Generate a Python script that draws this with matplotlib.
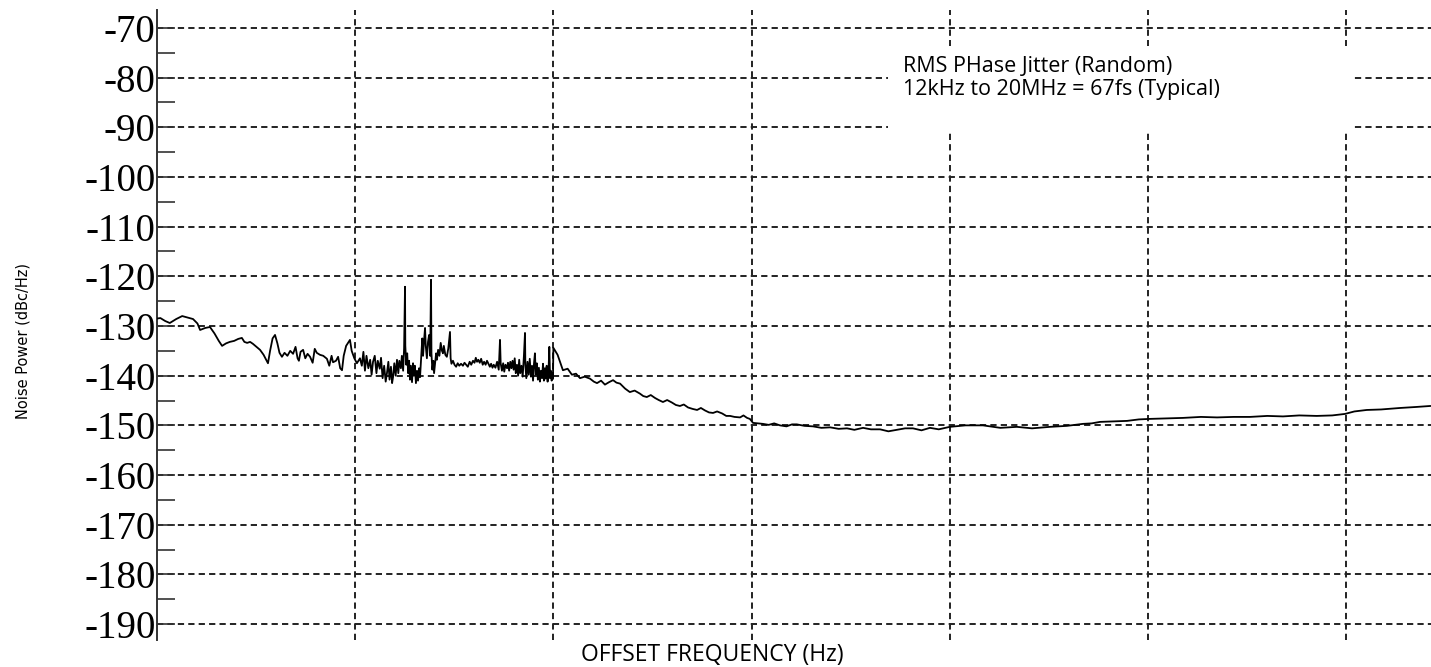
import numpy as np
import matplotlib
matplotlib.use("Agg")
import matplotlib.pyplot as plt
from matplotlib.patches import Rectangle

# phase noise readings, Hz / dBc/Hz
lowFreq = [100, 104, 110, 116, 125, 134, 143, 152, 160, 165, 175, 185, 195, 205, 213, 223, 233, 245,
           257, 268, 276, 285, 295, 305, 318, 331, 345, 363, 372, 383, 394, 405, 415, 427, 440, 455,
           470, 486, 500, 512, 520, 530, 546, 560, 575, 592, 610, 625, 640, 664, 690, 720, 740, 760,
           773, 800, 820, 840, 858, 875, 900, 941, 960, 990, 1020, 1057]
lowNoise = [-128.5, -128.4, -129.0, -129.4, -128.6, -128.0, -128.3, -128.6, -129.5, -130.8, -130.4,
            -130.2, -131.5, -133.0, -134.0, -133.5, -133.2, -133.0, -132.6, -132.4, -133.2, -133.4,
            -133.2, -133.6, -134.2, -134.8, -135.8, -137.5, -135.0, -132.5, -131.8, -133.5, -135.4,
            -136.2, -135.4, -136.0, -135.0, -135.6, -134.2, -136.5, -137.0, -135.2, -134.8, -136.5,
            -135.6, -136.2, -137.4, -134.6, -135.4, -135.8, -136.0, -136.6, -138.0, -136.0, -137.3,
            -137.0, -136.2, -138.5, -138.9, -136.0, -134.0, -132.8, -135.0, -136.5, -137.5, -136.5]

spurFreq = [1080, 1100, 1120, 1140, 1165, 1190, 1210, 1230, 1255, 1280, 1300, 1330, 1350, 1375, 1400,
            1425, 1446, 1470, 1490, 1515, 1535, 1552, 1575, 1600, 1625, 1650, 1670, 1700, 1720, 1745,
            1765, 1784, 1790, 1810, 1830, 1850, 1870, 1890, 1910, 1935, 1958, 1980, 2000, 2025, 2050,
            2075, 2100, 2124, 2150, 2180, 2200, 2225, 2251, 2270, 2300, 2330, 2360, 2390, 2413, 2425,
            2450, 2480, 2500, 2530, 2560, 2585, 2620, 2660, 2700, 2740, 2773, 2800, 2850, 2900, 2950,
            3008, 3030, 3060, 3114, 3170, 3230, 3290, 3350, 3420, 3496, 3560, 3630, 3700, 3780, 3850,
            3930, 4000, 4060, 4118, 4180, 4250, 4320, 4400, 4470, 4550, 4624, 4700, 4780, 4850, 4930,
            5000, 5100, 5200, 5300, 5378, 5420, 5500, 5580, 5650, 5730, 5834, 5900, 5980, 6060, 6140,
            6220, 6300, 6380, 6460, 6550, 6640, 6720, 6800, 6900, 7000, 7100, 7190, 7220, 7300, 7400,
            7500, 7600, 7700, 7800, 7893, 7980, 8070, 8150, 8250, 8350, 8450, 8550, 8650, 8764, 8864,
            8960, 9060, 9150, 9250, 9350, 9450, 9540, 9618, 9700, 9800, 9900, 9950]
spurNoise = [-138.0, -135.2, -139.0, -136.0, -138.5, -136.8, -139.8, -137.2, -136.0, -139.5, -137.0,
             -138.6, -136.4, -140.5, -138.0, -141.2, -139.5, -137.2, -140.8, -138.2, -141.5, -140.3,
             -137.5, -140.0, -136.8, -139.5, -137.0, -138.5, -136.0, -139.0, -134.5, -122.1, -134.0,
             -137.8, -135.5, -139.5, -137.0, -140.8, -138.0, -141.3, -137.5, -140.0, -138.0, -141.5,
             -139.0, -141.0, -138.5, -140.3, -136.5, -132.5, -136.0, -133.0, -130.4, -134.0, -136.5,
             -133.2, -131.8, -136.0, -120.7, -135.5, -138.8, -137.0, -139.5, -137.5, -135.5, -136.8,
             -134.8, -136.0, -133.4, -135.0, -135.5, -134.0, -135.8, -136.2, -134.5, -131.2, -136.5,
             -137.6, -137.0, -137.8, -138.2, -137.5, -138.0, -137.6, -138.0, -137.4, -137.8, -138.2,
             -137.2, -137.8, -137.0, -137.4, -136.4, -137.2, -136.8, -137.4, -136.6, -137.8, -137.2,
             -137.8, -137.0, -137.6, -138.2, -137.6, -138.4, -137.8, -138.4, -137.2, -138.8, -132.8,
             -137.5, -139.0, -137.5, -139.2, -137.8, -138.5, -137.4, -139.0, -137.2, -138.5, -137.0,
             -138.8, -136.5, -139.5, -137.8, -140.0, -136.8, -139.5, -138.0, -140.2, -136.0, -131.4,
             -137.8, -140.5, -137.2, -139.8, -136.6, -140.2, -138.0, -141.0, -137.6, -135.5, -139.8,
             -137.5, -140.8, -138.4, -141.2, -139.0, -140.5, -137.6, -141.0, -138.5, -140.6, -138.0,
             -141.2, -139.0, -134.2, -140.5, -139.0, -141.0, -139.5, -140.5]

highFreq = [10000, 10500, 11170, 11800, 12400, 13000, 13620, 14400, 15300, 16000, 16600, 17400, 18200,
            19100, 20000, 20800, 21700, 23000, 24300, 25700, 27300, 28400, 29600, 31000, 32600, 34000,
            35700, 37500, 39600, 41500, 43500, 45500, 47800, 50500, 53100, 55500, 58200, 61000, 63900,
            67000, 71000, 74500, 77900, 82000, 87500, 91000, 94900, 98000, 101700, 108000, 114000,
            122000, 130000, 139000, 150000, 160000, 169000, 185000, 204000, 225000, 249000, 275000,
            303000, 330000, 365000, 400000, 445000, 490000, 542000, 595000, 652000, 720000, 794000,
            880000, 1.0e6, 1.2e6, 1.47e6, 1.8e6, 2.18e6, 2.6e6, 3.2e6, 3.9e6, 4.7e6, 5.2e6, 5.73e6,
            6.7e6, 7.84e6, 9.0e6, 1.02e7, 1.25e7, 1.5e7, 1.85e7, 2.23e7, 2.7e7, 3.27e7, 4.0e7, 4.8e7,
            5.8e7, 7.1e7, 8.5e7, 9.86e7, 1.1e8, 1.27e8, 1.5e8, 1.87e8, 2.25e8, 2.65e8]
highNoise = [-134.4, -135.8, -138.9, -138.6, -139.8, -139.6, -140.5, -140.2, -140.6, -141.2, -141.5,
             -141.0, -141.8, -141.3, -140.9, -141.4, -141.6, -142.6, -143.3, -143.0, -143.6, -144.1,
             -144.3, -143.9, -144.5, -144.9, -145.3, -144.9, -145.4, -145.9, -146.1, -145.8, -146.4,
             -146.7, -146.9, -146.5, -147.0, -147.4, -147.5, -147.2, -147.6, -148.1, -148.1, -148.3,
             -148.4, -148.0, -148.5, -148.7, -149.5, -149.6, -149.7, -149.9, -149.6, -150.0, -150.2,
             -149.8, -149.8, -150.1, -150.2, -150.5, -150.4, -150.7, -150.6, -150.9, -150.5, -150.8,
             -150.8, -151.2, -150.9, -150.6, -150.6, -151.0, -150.5, -150.8, -150.3, -150.0, -150.0,
             -150.5, -150.3, -150.6, -150.3, -150.1, -149.7, -149.6, -149.3, -149.2, -149.1, -148.8,
             -148.7, -148.6, -148.5, -148.3, -148.4, -148.3, -148.3, -148.1, -148.2, -148.0, -148.1,
             -148.0, -147.7, -147.2, -146.9, -146.8, -146.5, -146.3, -146.1]

yTicks = list(range(-70, -191, -10))
yMinorTicks = list(range(-75, -190, -10))
decadeLines = [1e3, 1e4, 1e5, 1e6, 1e7, 1e8]

noteLines = ["RMS PHase Jitter (Random)", "12kHz to 20MHz = 67fs (Typical)"]

plt.rcParams['lines.scale_dashes'] = False

fig = plt.figure(figsize=(14.31, 6.67), dpi=100)
ax = fig.add_axes([157 / 1431, 27 / 667, 1 - 157 / 1431, 630 / 667])

freq = lowFreq + spurFreq + highFreq
noise = lowNoise + spurNoise + highNoise
ax.plot(freq, noise, color='black', linewidth=1.3, zorder=3)

ax.set_xscale('log')
ax.set_xlim(100, 10 ** 8.428)
ax.set_ylim(-193.2, -66.4)

ax.set_yticks(yTicks)
ax.set_yticklabels([str(v) for v in yTicks], family='Liberation Serif', fontsize=28)
ax.set_yticks(yMinorTicks, minor=True)
ax.tick_params(axis='y', which='both', direction='in', length=13, width=1.2, color='#333333', pad=1)
ax.set_xticks(decadeLines)
ax.set_xticks([], minor=True)
ax.tick_params(axis='x', which='both', length=0, labelbottom=False)

dash = (0, (4.5, 3.0))
ax.grid(axis='y', which='major', color='#222222', linestyle=dash, linewidth=1.4)
ax.grid(axis='x', which='major', color='#222222', linestyle=dash, linewidth=1.4)

for side in ['top', 'right', 'bottom']:
    ax.spines[side].set_visible(False)
ax.spines['left'].set_color('#333333')
ax.spines['left'].set_linewidth(1.4)

# white note box hides the grid behind the jitter note
ax.add_patch(Rectangle((0.5738, 0.808), 0.3646, 0.135, transform=ax.transAxes,
                       facecolor='white', edgecolor='none', zorder=2.5))
ax.text(0.5856, 0.902, noteLines[0], transform=ax.transAxes, family='Open Sans',
        fontsize=15.5, va='baseline', ha='left', zorder=4)
ax.text(0.5856, 0.865, noteLines[1], transform=ax.transAxes, family='Open Sans',
        fontsize=15.5, va='baseline', ha='left', zorder=4)

fig.text(23 / 1431, 1 - 341 / 667, "Noise Power (dBc/Hz)", rotation=90, ha='center', va='center',
         family=['Liberation Sans Narrow', 'DejaVu Sans'], fontsize=10.5)
fig.text(712 / 1431, 1 - 655 / 667, "OFFSET FREQUENCY (Hz)", ha='center', va='center',
         family='Open Sans', fontsize=16.5)

fig.savefig('out.png', dpi=100)
